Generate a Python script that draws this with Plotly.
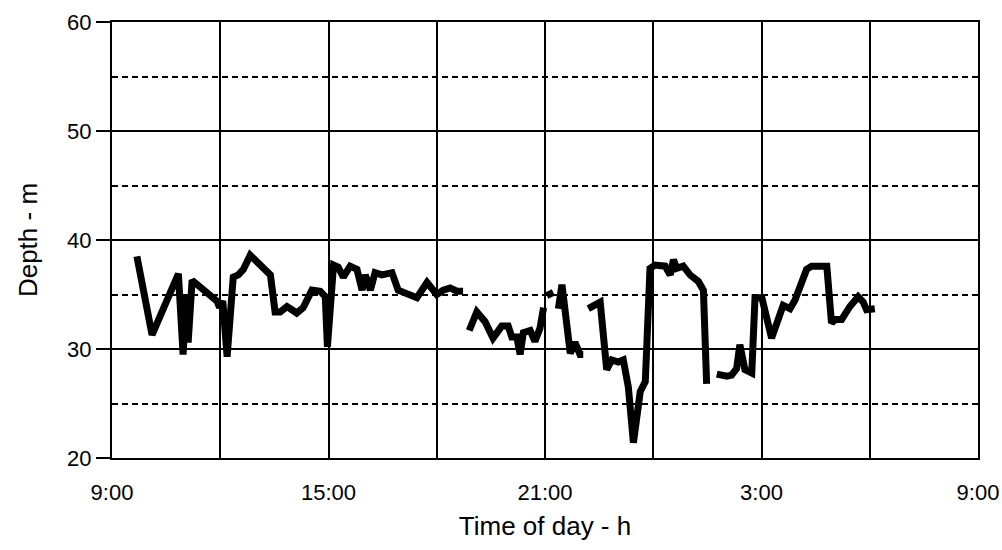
import plotly.graph_objects as go

# Time of day in decimal hours since midnight of day 1 (values past 24 fall on day 2)
seg1_time = [9.69, 10.11, 10.84, 10.97, 11.06, 11.11, 11.22, 11.91, 11.98, 12.07, 12.19,
             12.36, 12.50, 12.64, 12.83, 13.19, 13.39, 13.52, 13.66, 13.85, 14.12, 14.30,
             14.54, 14.77, 14.91, 14.97, 15.14, 15.27, 15.41, 15.60, 15.79, 15.93, 16.02,
             16.16, 16.29, 16.48, 16.76, 16.93, 17.21, 17.45, 17.73, 18.00, 18.18, 18.37,
             18.56, 18.73]
seg1_depth = [38.5, 31.3, 36.9, 29.5, 35.0, 30.6, 36.3, 34.4, 33.8, 34.4, 29.3,
              36.6, 36.8, 37.3, 38.6, 37.4, 36.8, 33.4, 33.4, 33.9, 33.3, 33.8,
              35.4, 35.3, 34.8, 30.2, 37.7, 37.5, 36.6, 37.6, 37.3, 35.4, 36.8,
              35.4, 37.0, 36.8, 37.0, 35.4, 35.1, 34.7, 36.1, 35.0, 35.4, 35.6,
              35.3, 35.3]

seg2_time = [18.90, 19.11, 19.34, 19.56, 19.80, 19.98, 20.08, 20.22, 20.31, 20.40, 20.59,
             20.72, 20.86, 20.96]
seg2_depth = [31.7, 33.4, 32.5, 31.0, 32.1, 32.1, 31.1, 31.1, 29.5, 31.5, 31.7,
              30.7, 31.9, 33.8]

seg3_time = [21.05, 21.23]
seg3_depth = [34.9, 35.2]

seg4_time = [21.37, 21.47, 21.70, 21.83, 21.97, 22.06]
seg4_depth = [33.7, 35.9, 29.6, 30.6, 29.5, 29.5]

seg5_time = [22.20, 22.53, 22.71, 22.85, 23.03, 23.17, 23.31, 23.45, 23.64, 23.78, 23.91,
             24.05, 24.33, 24.47, 24.56, 24.65, 24.83, 25.02, 25.25, 25.39, 25.48]
seg5_depth = [33.7, 34.3, 28.1, 29.0, 28.8, 29.0, 26.5, 21.4, 26.1, 27.0, 37.4,
              37.7, 37.6, 36.8, 38.2, 37.4, 37.6, 36.8, 36.2, 35.4, 26.8]

seg6_time = [25.76, 26.04, 26.17, 26.31, 26.40, 26.54, 26.73, 26.82, 27.01, 27.28, 27.60,
             27.79, 27.93, 28.07, 28.25, 28.39, 28.81, 28.94, 29.04, 29.22, 29.45, 29.68,
             29.82, 29.91, 30.14]
seg6_depth = [27.7, 27.5, 27.6, 28.2, 30.4, 28.1, 27.8, 34.7, 34.7, 31.0, 34.0,
              33.7, 34.5, 35.9, 37.3, 37.6, 37.6, 32.4, 32.7, 32.7, 33.9, 34.8,
              34.3, 33.6, 33.7]

tick_hours = [9, 15, 21, 27, 33]
tick_labels = ["9:00", "15:00", "21:00", "3:00", "9:00"]
depth_ticks = [20, 30, 40, 50, 60]

segments = [
    (seg1_time, seg1_depth),
    (seg2_time, seg2_depth),
    (seg3_time, seg3_depth),
    (seg4_time, seg4_depth),
    (seg5_time, seg5_depth),
    (seg6_time, seg6_depth),
]

# Join the recording segments, leaving gaps between them
xs, ys = [], []
for t, d in segments:
    if xs:
        xs.append(None)
        ys.append(None)
    xs.extend(t)
    ys.extend(d)

fig = go.Figure()
fig.add_trace(go.Scatter(
    x=xs, y=ys, mode="lines",
    line=dict(color="black", width=7),
    connectgaps=False,
    hoverinfo="skip",
    showlegend=False,
))

family = "Liberation Sans, Arial, sans-serif"
tick_font = dict(family=family, size=22, color="black")
title_font = dict(family=family, size=26, color="black")

fig.update_layout(
    width=1002, height=550,
    margin=dict(l=112, r=24, t=22, b=92),
    paper_bgcolor="white",
    plot_bgcolor="white",
    font=tick_font,
    showlegend=False,
)

fig.update_xaxes(
    range=[9, 33],
    automargin=False,
    tickvals=tick_hours,
    ticktext=tick_labels,
    tickfont=tick_font,
    ticks="",
    ticklabelstandoff=14,
    showgrid=True,
    gridcolor="black",
    gridwidth=1.5,
    griddash="6px,4px",
    minor=dict(tick0=9, dtick=3, showgrid=True, gridcolor="black",
               gridwidth=1.5, griddash="solid", ticks=""),
    showline=True, linecolor="black", linewidth=2, mirror=True,
    zeroline=False,
    title=dict(text="Time of day - h", font=title_font, standoff=12),
)

fig.update_yaxes(
    range=[20, 60],
    automargin=False,
    tickvals=depth_ticks,
    tickfont=tick_font,
    ticks="outside",
    ticklen=14,
    tickwidth=2,
    tickcolor="black",
    showgrid=True,
    gridcolor="black",
    gridwidth=1.5,
    minor=dict(tick0=20, dtick=5, showgrid=True, gridcolor="black",
               gridwidth=1.5, griddash="6px,4px", ticks=""),
    showline=True, linecolor="black", linewidth=2, mirror=True,
    zeroline=False,
    title=dict(text="Depth - m", font=title_font, standoff=22),
)

fig.write_html("out.html")
